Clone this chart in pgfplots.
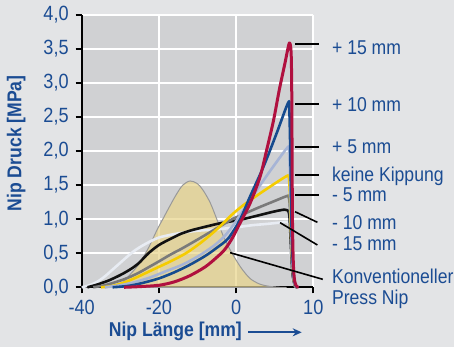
\documentclass[border=0pt]{standalone}
\usepackage{fontspec}
\setmainfont{Liberation Sans}[FakeStretch=0.88]
\usepackage{pgfplots}
\pgfplotsset{compat=1.18}
\usetikzlibrary{arrows.meta}
\definecolor{outerbg}{HTML}{E3E4E6}
\definecolor{plotbg}{HTML}{D0D1D3}
\definecolor{textblue}{HTML}{1B4C93}
\definecolor{cred}{HTML}{B0103F}
\definecolor{cblue}{HTML}{154A8E}
\definecolor{clblue}{HTML}{A6B4D6}
\definecolor{cyellow}{HTML}{F5CC00}
\definecolor{cgray}{HTML}{7A7A7A}
\definecolor{cblack}{HTML}{111111}
\definecolor{cwhite}{HTML}{E8ECF3}
\definecolor{ctan}{RGB}{233,213,138}
\begin{document}
\begin{tikzpicture}
\fill[outerbg] (0,0) rectangle (227pt,173.5pt);
\begin{axis}[
  at={(40.85pt,29.85pt)}, anchor=south west,
  scale only axis, width=115.8pt, height=136.3pt,
  xmin=-40, xmax=20, ymin=0, ymax=4,
  axis background/.style={fill=plotbg},
  axis x line*=bottom, axis y line*=left,
  axis line style={line width=1pt, black, -},
  every outer x axis line/.append style={-},
  every outer y axis line/.append style={-},
  xtick={-40,-20,0,20}, xticklabels={-40,-20,0,10},
  ytick={0,0.5,1,1.5,2,2.5,3,3.5,4},
  yticklabels={{0,0},{0,5},{1,0},{1,5},{2,0},{2,5},{3,0},{3,5},{4,0}},
  tick align=outside, major tick length=3pt,
  tick style={line width=1pt, black},
  grid=major, major grid style={white, line width=1.1pt},
  ticklabel style={font=\fontsize{10.3}{12}\selectfont, text=textblue},
  xlabel={Nip Länge [mm]}, ylabel={Nip Druck [MPa]},
  label style={font=\bfseries\fontsize{10}{12}\selectfont, text=textblue, inner sep=0pt},
  xlabel style={at={(rel axis cs:0.1153,-0.1823)}, anchor=base west},
  ylabel style={at={(rel axis cs:-0.26,0.2773)}, anchor=base west},
  clip=false,
  every axis plot/.append style={smooth, tension=0.5, line join=round},
]
% Konventioneller Press Nip
\addplot[fill=ctan, fill opacity=0.7, draw=black!40, line width=0.5pt] coordinates {
(-32.3,0) (-29.6,0.06) (-27.1,0.21) (-24.9,0.36) (-22.5,0.6) (-20.5,0.84)
(-18.8,1.02) (-17,1.21) (-15.4,1.37) (-13.8,1.5) (-11.9,1.56) (-10,1.52)
(-8.5,1.42) (-6.7,1.24) (-5,1.0) (-3.3,0.75) (-1.55,0.55) (0,0.4) (1.5,0.27)
(3.6,0.13) (6,0.05) (8.5,0.015) (11.4,0) (13,0)} \closedcycle;
% -15 mm
\addplot[cwhite, line width=1.3pt] coordinates {
(-40,0) (-38,0.03) (-36,0.08) (-34,0.16) (-32,0.26) (-30,0.36) (-28,0.46)
(-26,0.55) (-24,0.62) (-22,0.68) (-20,0.73) (-17,0.77) (-14,0.8) (-10,0.83)
(-5,0.85) (0,0.88) (4,0.91) (8,0.93) (11.4,0.95) (13.3,0.96) (13.8,0.9)
(14.2,0.5) (14.6,0.15) (15.2,0.02) (15.8,0)};
% -10 mm
\addplot[cblack, line width=1.3pt] coordinates {
(-38.5,0) (-36,0.04) (-33,0.1) (-30,0.18) (-27.5,0.26) (-25.3,0.35) (-22.7,0.5)
(-20,0.62) (-17,0.71) (-14.5,0.78) (-12,0.83) (-9.3,0.87) (-4.1,0.94) (1,0.99)
(5.4,1.05) (9.7,1.11) (12.5,1.14) (13.3,1.13) (13.8,1.05) (14.2,0.6) (14.6,0.2)
(15.2,0.03) (15.8,0)};
% -5 mm
\addplot[cgray, line width=1.3pt] coordinates {
(-37,0) (-34,0.03) (-31,0.08) (-28,0.14) (-25,0.22) (-22.5,0.3) (-20,0.38)
(-17,0.48) (-14,0.57) (-10,0.7) (-7,0.8) (-4,0.9) (-1,1.0) (1,1.05) (5.4,1.16)
(9.7,1.26) (13.2,1.34) (13.6,1.33) (13.9,1.2) (14.2,0.7) (14.6,0.25) (15.2,0.03)
(15.8,0)};
% keine Kippung
\addplot[cyellow, line width=1.3pt] coordinates {
(-35,0) (-32,0.02) (-29,0.07) (-26,0.14) (-23,0.22) (-20,0.3) (-17,0.38)
(-13,0.5) (-9,0.66) (-5,0.85) (-1,1.07) (2,1.21) (6,1.37) (10.5,1.54)
(13.4,1.64) (13.7,1.6) (14,1.3) (14.3,0.7) (14.7,0.25) (15.2,0.04) (15.8,0)};
% +5 mm
\addplot[clblue, line width=1.3pt] coordinates {
(-34,0) (-30,0.03) (-26,0.08) (-22,0.15) (-18,0.24) (-14,0.33) (-10,0.45)
(-6,0.6) (-3,0.75) (0,0.97) (3.6,1.28) (7.1,1.57) (10.5,1.84) (13.3,2.05)
(13.7,2.02) (14,1.6) (14.3,0.8) (14.7,0.25) (15.2,0.04) (15.8,0)};
% +10 mm
\addplot[cblue, line width=1.3pt] coordinates {
(-32,0) (-28,0.02) (-24.5,0.06) (-20,0.13) (-16,0.22) (-12,0.33) (-8,0.46)
(-5,0.58) (-2,0.72) (1,0.99) (3.6,1.33) (7.1,1.77) (10.5,2.26) (13.5,2.71)
(13.8,2.6) (14.1,1.8) (14.4,0.8) (14.8,0.25) (15.3,0.04) (15.9,0)};
% +15 mm
\addplot[cred, line width=1.5pt] coordinates {
(-29,0) (-25,0.01) (-20,0.03) (-16,0.08) (-12,0.17) (-8,0.3) (-5,0.44)
(-3,0.55) (-1,0.72) (1,0.94) (3.6,1.23) (6.2,1.62) (7.9,2.01) (9.7,2.45)
(11.2,2.9) (12.7,3.3) (13.6,3.55) (13.95,3.58) (14.25,3.45) (14.4,3.0)
(14.5,2.0) (14.6,1.0) (14.8,0.4) (15.1,0.12) (15.6,0.02) (16.2,0)};
% leader lines
\draw[black, line width=1.1pt] (axis cs:15.28,3.566) -- (axis cs:21.58,3.566);
\draw[black, line width=1.1pt] (axis cs:15.28,2.685) -- (axis cs:21.58,2.685);
\draw[black, line width=1.1pt] (axis cs:15.28,2.059) -- (axis cs:21.58,2.059);
\draw[black, line width=1.1pt] (axis cs:15.28,1.648) -- (axis cs:21.58,1.648);
\draw[black, line width=1.1pt] (axis cs:15.28,1.354) -- (axis cs:21.58,1.354);
\draw[black, line width=0.8pt] (axis cs:15.28,1.109) -- (axis cs:21.06,0.954);
\draw[black, line width=0.8pt] (axis cs:11.4,0.948) -- (axis cs:21.06,0.621);
\draw[black, line width=0.8pt] (axis cs:-1.55,0.508) -- (axis cs:22.46,0.117);
\end{axis}
\begin{scope}[every node/.style={anchor=base west, inner sep=0pt, text=textblue, font=\fontsize{10}{12}\selectfont}]
\node at (165.85pt,146.25pt) {+ 15 mm};
\node at (165.85pt,117.65pt) {+ 10 mm};
\node at (165.85pt,96.5pt) {+ 5 mm};
\node at (165.85pt,82.65pt) {keine Kippung};
\node at (165.85pt,72.65pt) {- 5 mm};
\node at (165.85pt,58.85pt) {- 10 mm};
\node at (165.85pt,48.15pt) {- 15 mm};
\node at (165.85pt,31.85pt) {Konventioneller};
\node at (165.85pt,21pt) {Press Nip};
\end{scope}
\draw[textblue, line width=0.8pt, -{Stealth[length=4.5pt,width=4pt]}] (124pt,7.35pt) -- (150.85pt,7.35pt);
\pgfresetboundingbox
\useasboundingbox (0,0) rectangle (227pt,173.5pt);
\end{tikzpicture}
\end{document}
